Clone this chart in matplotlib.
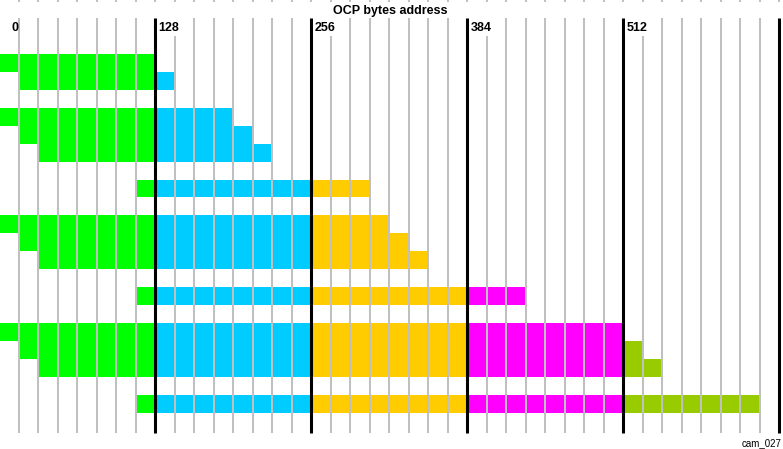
import numpy as np
from matplotlib import pyplot as plt
from matplotlib.patches import Rectangle

# layout of the bytes: one entry per drawn row (row index counted from the top grid line)
# an end equal to the lane start means the lane is empty in that row
rows = [2, 3, 5, 6, 7, 9, 11, 12, 13, 15, 17, 18, 19, 21]
green_start = [0, 16, 0, 16, 32, 112, 0, 16, 32, 112, 0, 16, 32, 112]
green_end = [128] * 14
cyan_end = [128, 144, 192, 208, 224, 256, 256, 256, 256, 256, 256, 256, 256, 256]
yellow_end = [256, 256, 256, 256, 256, 304, 320, 336, 352, 384, 384, 384, 384, 384]
magenta_end = [384, 384, 384, 384, 384, 384, 384, 384, 384, 432, 512, 512, 512, 512]
olive_end = [512, 512, 512, 512, 512, 512, 512, 512, 512, 512, 512, 528, 544, 624]

lane_labels = ['0', '128', '256', '384', '512']
lane_pos = [0, 128, 256, 384, 512]
major = [128, 256, 384, 512, 640]
minor = [v for v in range(16, 640, 16) if v % 128 != 0]

W, H = 783, 449
px = 156 / 128.0          # pixels per byte
row_h = 17.95             # pixels per row
x0 = -1.0                 # pixel of byte 0
y0 = 18.0                 # pixel of the top grid line

fig = plt.figure(figsize=(W / 100, H / 100), dpi=100)
ax = fig.add_axes([0, 0, 1, 1])
ax.set_xlim((0 - x0) / px, (W - x0) / px)
ax.set_ylim((H - y0) / row_h, (0 - y0) / row_h)
ax.axis('off')

r = np.array(rows)
n = len(rows)
segs = [
    (np.array(green_start), np.array(green_end), '#00ff00'),
    (np.full(n, 128), np.array(cyan_end), '#00ccff'),
    (np.full(n, 256), np.array(yellow_end), '#ffcc00'),
    (np.full(n, 384), np.array(magenta_end), '#ff00ff'),
    (np.full(n, 512), np.array(olive_end), '#99cc00'),
]
for start, end, col in segs:
    m = end > start
    ax.barh(r[m], (end - start)[m], left=start[m], height=1, align='edge',
            color=col, linewidth=0, zorder=1)

bottom = (433 - y0) / row_h
ax.vlines(minor, 0, bottom, color='#c0c0c0', lw=1.45, zorder=2)
ax.vlines(major, 0, bottom, color='black', lw=2.2, zorder=3)
# tiny stubs at the very top edge
top = (0 - y0) / row_h
ax.vlines(list(range(16, 641, 16)), top, top + 1.6 / row_h, color='#c0c0c0', lw=1.45, zorder=2)

for lab, v in zip(lane_labels, lane_pos):
    if v == 0:
        tx = (11 - x0) / px
    else:
        ax.add_patch(Rectangle((v + 1.6 / px, 0), 22 / px, 1, facecolor='white',
                               edgecolor='none', zorder=4))
        tx = v + 3.5 / px
    ax.text(tx, 0.55, lab, ha='left', va='center', fontsize=9, fontweight='bold',
            family='Liberation Sans', zorder=5)

fig.text(390 / W, 1 - 11 / H, 'OCP bytes address', ha='center', va='center',
         fontsize=9, fontweight='bold', family='Liberation Sans')
fig.text(782 / W, 1 - 443 / H, 'cam_027', ha='right', va='center',
         fontsize=7, family='Liberation Sans')

fig.savefig('out.png', dpi=100)
